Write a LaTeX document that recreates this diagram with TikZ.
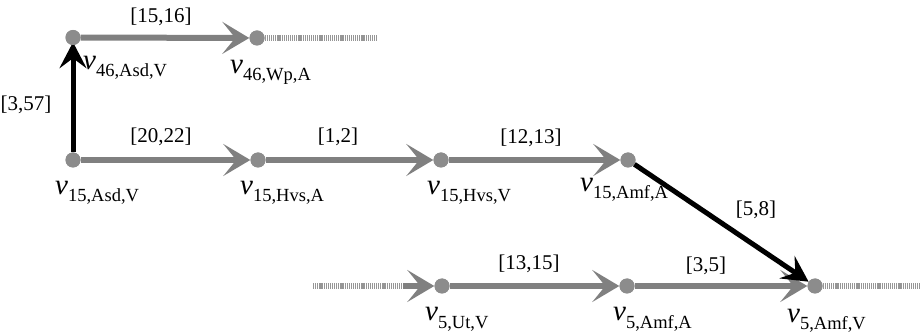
\documentclass[tikz,border=0pt]{standalone}
\usepackage{fontspec}
\setmainfont{Liberation Serif}
\usetikzlibrary{arrows.meta}
\definecolor{lgray}{RGB}{128,128,128}
\definecolor{dgray}{RGB}{140,140,140}
\definecolor{sgray}{RGB}{150,150,150}
\newcommand{\vlab}[1]{{\fontsize{29}{29}\selectfont\itshape v}\raisebox{-7pt}{\fontsize{18.5}{18.5}\selectfont #1}}
\begin{document}
\begin{tikzpicture}[x=1pt,y=-1pt,
  dot/.style={circle,fill=dgray,draw=none,minimum size=15pt,inner sep=0pt},
  garrow/.style={draw=lgray,line width=6pt,-{Stealth[length=27pt,width=32pt,inset=13pt,fill=lgray]}},
  barrow/.style={draw=black,line width=5pt,-{Stealth[length=26pt,width=27pt,inset=10pt]}},
  stub/.style={draw=sgray,line width=6pt,dash pattern=on 1.2pt off 0.9pt},
  elab/.style={inner sep=0pt,font=\fontsize{21}{21}\selectfont},
  vl/.style={inner sep=0pt,anchor=base west}]
\useasboundingbox (0,0) rectangle (923,336);
% dots
\node[dot] (v46A) at (73,37.5) {};
\node[dot] (v46W) at (257,38) {};
\node[dot] (v15A) at (73,160) {};
\node[dot] (v15HA) at (258,160) {};
\node[dot] (v15HV) at (441,160) {};
\node[dot] (v15MA) at (628,160) {};
\node[dot] (v5U) at (442,286) {};
\node[dot] (v5MA) at (627,286) {};
\node[dot] (v5MV) at (815,286) {};
\coordinate (s1) at (378,38);
\coordinate (s2) at (313,286);
\coordinate (s2e) at (410,286);
\coordinate (s3) at (920,286);
% stubs
\draw[stub] (v46W) -- (s1);
\draw[stub] (v5MV) -- (s3);
\draw[stub] (s2) -- (s2e);
% gray arrows
\draw[garrow] (v46A) -- (v46W);
\draw[garrow] (v15A) -- (v15HA);
\draw[garrow] (v15HA) -- (v15HV);
\draw[garrow] (v15HV) -- (v15MA);
\draw[garrow] (v5U) -- (v5MA);
\draw[garrow] (v5MA) -- (v5MV);
\draw[garrow,shorten <=90pt] (s2) -- (v5U);
% black arrows
\draw[barrow,shorten >=-3pt] (v15A) -- (v46A);
\draw[barrow] (v15MA) -- (v5MV);
% redraw dots on top
\foreach \n in {v46A,v46W,v15A,v15HA,v15HV,v15MA,v5U,v5MA,v5MV}
  \fill[dgray] (\n) circle (7.5pt);
% edge labels
\node[elab] (l1) at (161,17) {[15,16]};
\node[elab] (l2) at (26,105) {[3,57]};
\node[elab] (l3) at (161,137) {[20,22]};
\node[elab] (l4) at (338,137) {[1,2]};
\node[elab] (l5) at (531,138) {[12,13]};
\node[elab] (l6) at (756,210) {[5,8]};
\node[elab] (l7) at (529,264) {[13,15]};
\node[elab] (l8) at (706,266) {[3,5]};
% node labels
\node[vl] (t1) at (83,70) {\vlab{46,Asd,V}};
\node[vl] (t2) at (230,74) {\vlab{46,Wp,A}};
\node[vl] (t3) at (55,195) {\vlab{15,Asd,V}};
\node[vl] (t4) at (240,195) {\vlab{15,Hvs,A}};
\node[vl] (t5) at (427,195) {\vlab{15,Hvs,V}};
\node[vl] (t6) at (580,192) {\vlab{15,Amf,A}};
\node[vl] (t7) at (425,321) {\vlab{5,Ut,V}};
\node[vl] (t8) at (613,321) {\vlab{5,Amf,A}};
\node[vl] (t9) at (787,323) {\vlab{5,Amf,V}};
\end{tikzpicture}
\end{document}
